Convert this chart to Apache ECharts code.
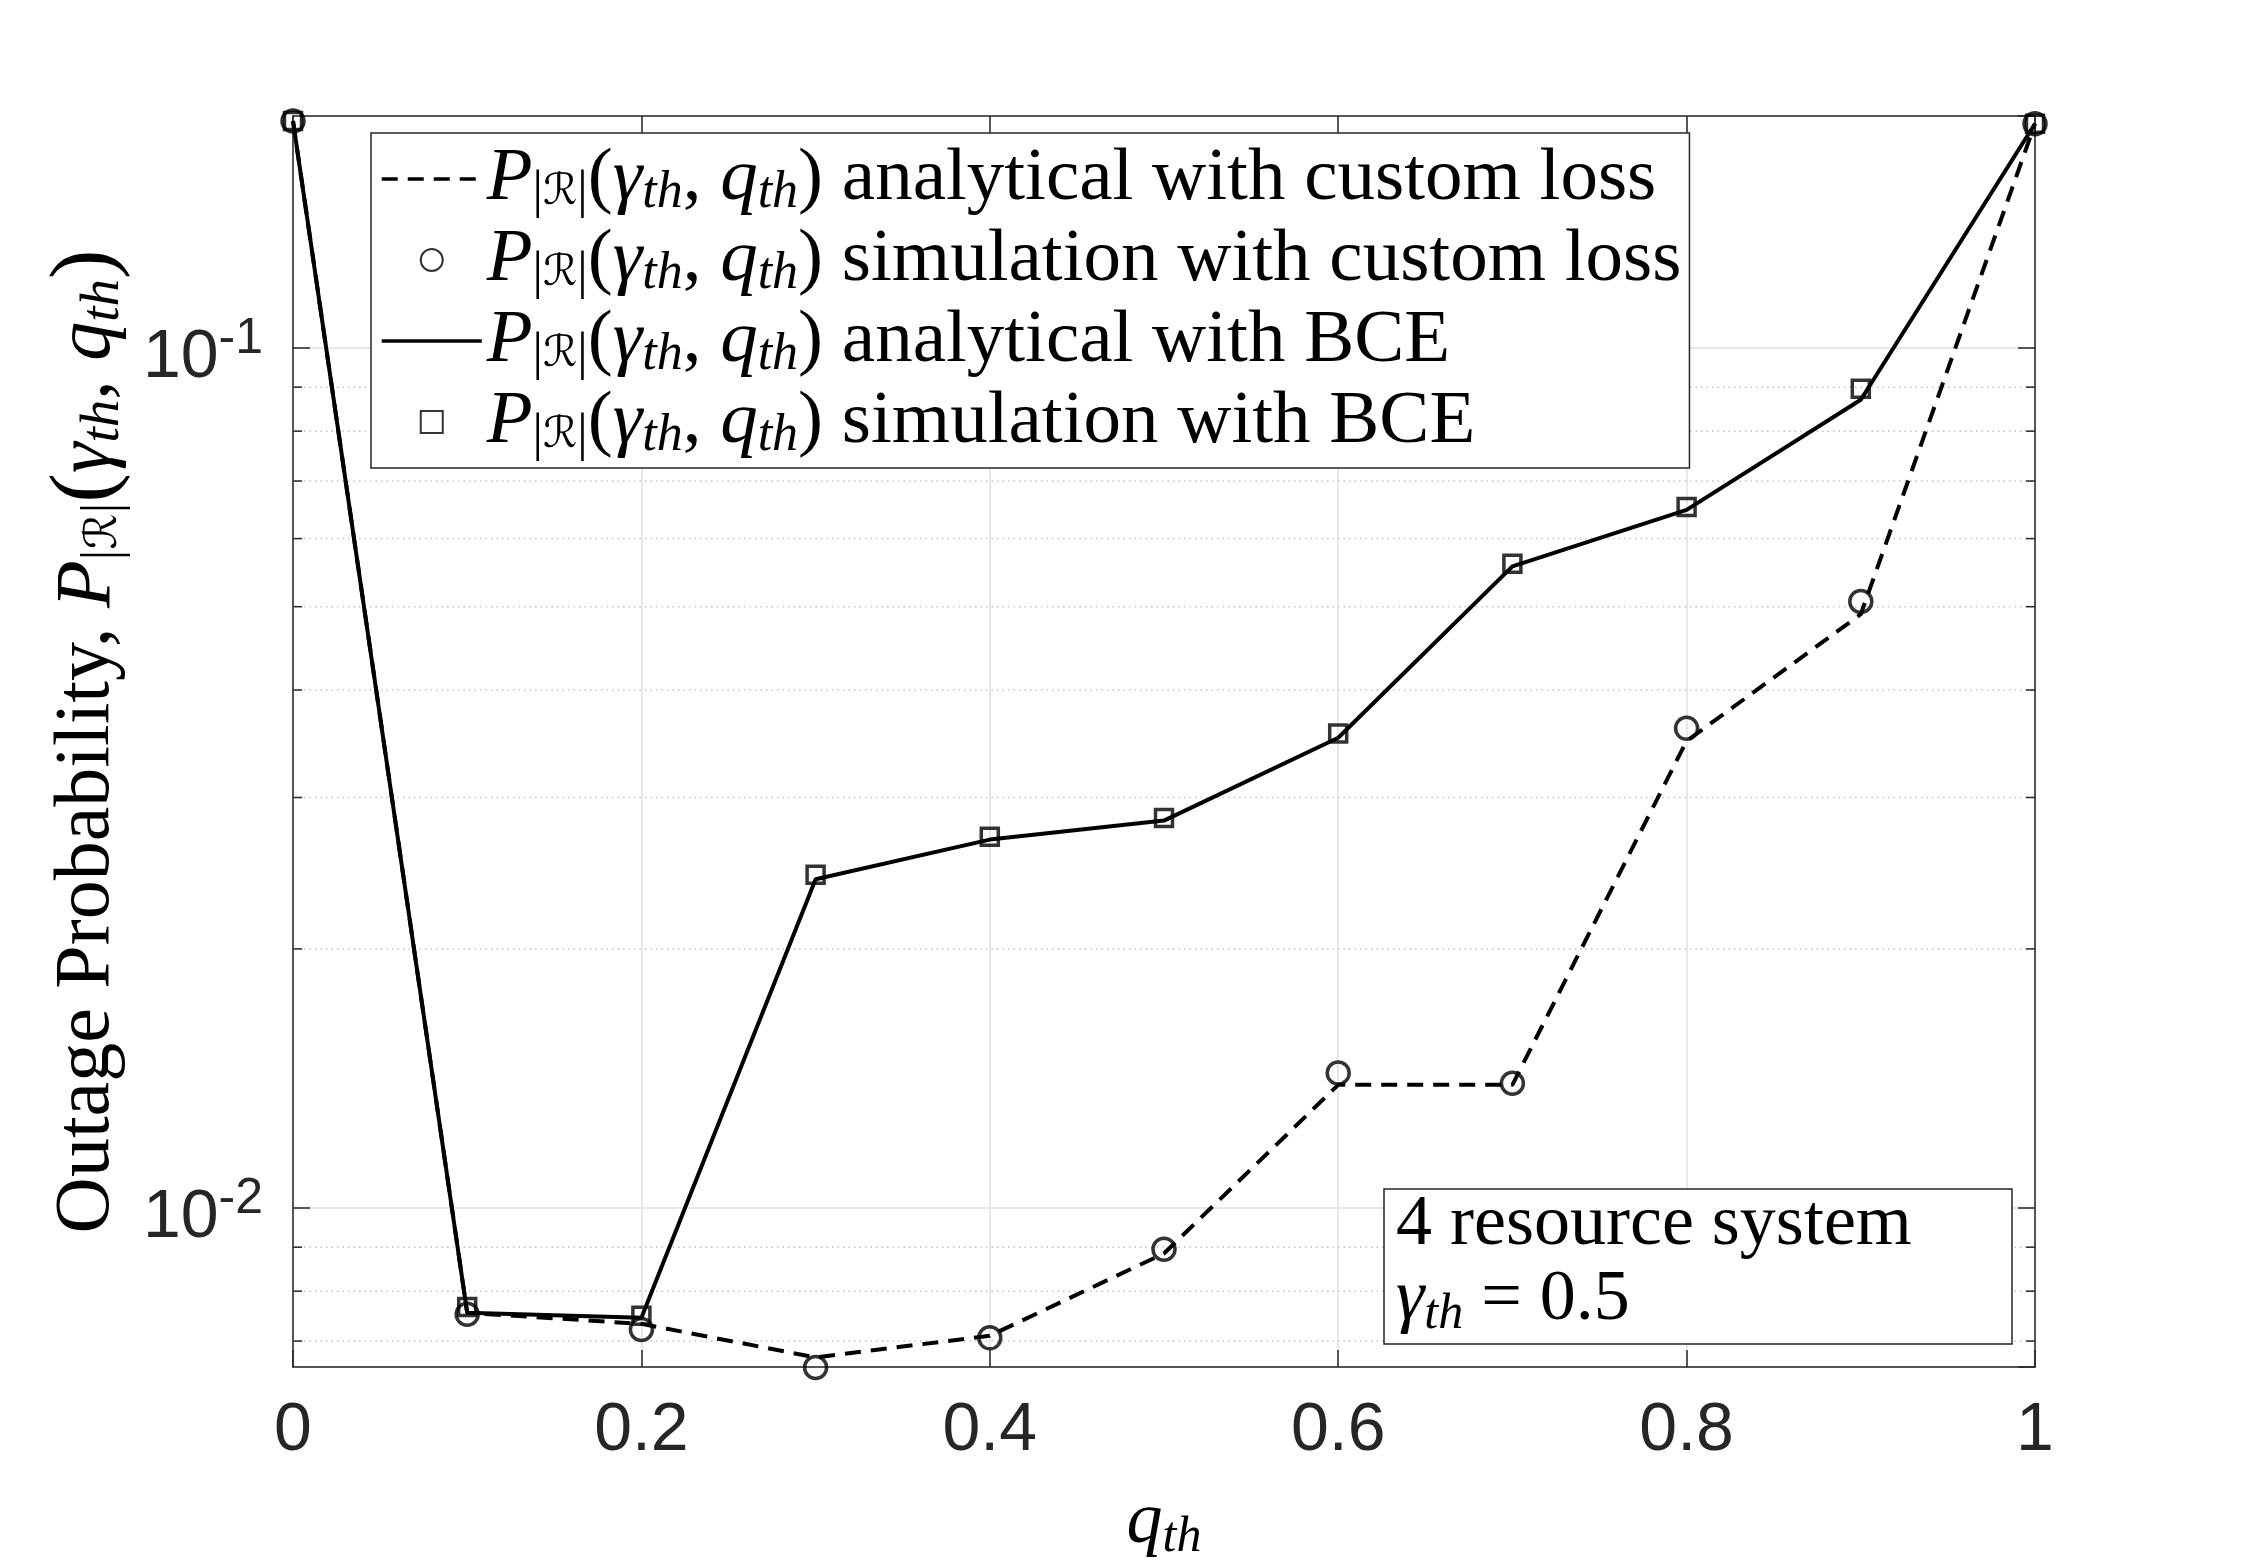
<!DOCTYPE html>
<html>
<head>
<meta charset="utf-8">
<script src="https://cdn.jsdelivr.net/npm/echarts@6/dist/echarts.min.js"></script>
<style>
html,body{margin:0;padding:0;background:#fff;}
#chart{width:2250px;height:1562px;}
</style>
</head>
<body>
<div id="chart"></div>
<script>
// ---- data ----
const qth = [0, 0.1, 0.2, 0.3, 0.4, 0.5, 0.6, 0.7, 0.8, 0.9, 1];
const customAnalytical = [0.1835, 0.00755, 0.00733, 0.0067, 0.0071, 0.00885, 0.0139, 0.0139, 0.0349, 0.0490, 0.1822];
const customSimulation = [0.1835, 0.00752, 0.00722, 0.00652, 0.00706, 0.00895, 0.01435, 0.01396, 0.0361, 0.0507, 0.1822];
const bceAnalytical = [0.1835, 0.00755, 0.00745, 0.0241, 0.0268, 0.0282, 0.0352, 0.0557, 0.0648, 0.0870, 0.1822];
const bceSimulation = [0.1835, 0.00767, 0.00749, 0.0244, 0.0270, 0.0284, 0.0356, 0.0561, 0.0653, 0.0896, 0.1822];
const xTicks = [0, 0.2, 0.4, 0.6, 0.8, 1];
const yMin = 0.00653, yMax = 0.186;
const yMinorTicks = [0.007, 0.008, 0.009, 0.02, 0.03, 0.04, 0.05, 0.06, 0.07, 0.08, 0.09];
const seriesNames = ['analytical with custom loss', 'simulation with custom loss', 'analytical with BCE', 'simulation with BCE'];

const SERIF = "'Liberation Serif', 'DejaVu Serif', serif";
const SANS = "'Liberation Sans', Arial, sans-serif";
const SCRIPT = "'DejaVu Serif', 'DejaVu Sans', serif";
const AX = '#262626';

function makeRich(main, sub, drop, parens) {
  const H = sub + drop;
  return {
    r: {fontFamily: SERIF, fontSize: main, lineHeight: H, color: '#000'},
    i: {fontFamily: SERIF, fontStyle: 'italic', fontSize: main, lineHeight: H, color: '#000'},
    p: {fontFamily: SERIF, fontSize: parens, fontWeight: 'lighter', lineHeight: H, color: '#000'},
    si: {fontFamily: SERIF, fontStyle: 'italic', fontSize: sub, lineHeight: sub, padding: [drop, 0, 0, 0], color: '#000'},
    sr: {fontFamily: SERIF, fontSize: sub, lineHeight: sub, padding: [drop, 0, 0, 0], color: '#000'},
    sc: {fontFamily: SCRIPT, fontStyle: 'italic', fontSize: Math.round(sub * 0.82), lineHeight: sub, padding: [drop, 0, 0, 0], color: '#000'}
  };
}
const legendRich = makeRich(75, 52, 28, 75);
const titleRich = makeRich(78, 55, 32, 88);
const boxRich = makeRich(72, 50, 30, 72);
const P_EXPR = '{i|P}{sr||}{sc|ℛ}{sr||}{p|(}{i|γ}{si|th}{r|, }{i|q}{si|th}{p|)}';

const chart = echarts.init(document.getElementById('chart'), null, {renderer: 'canvas'});

function pairs(ys) { return qth.map((x, k) => [x, ys[k]]); }

const option = {
  backgroundColor: '#fff',
  animation: false,
  grid: {left: 293, top: 116, width: 1742, height: 1251, containLabel: false, outerBoundsMode: 'none'},
  title: {
    text: '4 resource system\n{i|γ}{si|th}{r| = 0.5}',
    left: 1384, top: 1190,
    padding: [0, 100, 4, 12],
    borderColor: AX, borderWidth: 1.5, backgroundColor: '#fff',
    textStyle: {fontFamily: SERIF, fontSize: 72, fontWeight: 'normal', color: '#000', lineHeight: 70, rich: boxRich}
  },
  legend: {
    orient: 'vertical', left: 371, top: 133,
    padding: [6, 8, 6, 9], itemGap: 1, itemWidth: 100, itemHeight: 22,
    backgroundColor: '#fff', borderColor: AX, borderWidth: 1.5,
    selectedMode: false,
    data: seriesNames,
    lineStyle: {width: 3.5},
    textStyle: {fontFamily: SERIF, fontSize: 75, color: '#000', rich: legendRich},
    formatter: function (name) { return P_EXPR + '{r| ' + name + '}'; }
  },
  xAxis: [{
    type: 'value', position: 'bottom', min: 0, max: 1, interval: 0.2,
    axisLine: {show: true, onZero: false, lineStyle: {color: AX, width: 1.5}},
    axisTick: {show: true, inside: true, length: 17, lineStyle: {color: AX, width: 1.5}},
    splitLine: {show: true, lineStyle: {color: '#e0e0e0', width: 1.5}},
    axisLabel: {fontFamily: SANS, fontSize: 68, color: AX, margin: 30,
      formatter: function (v) { return String(Math.round(v * 10) / 10); }},
    name: '{i|q}{si|th}', nameLocation: 'middle', nameGap: 116,
    nameTextStyle: {fontFamily: SERIF, fontSize: 72, color: '#000', rich: boxRich}
  }, {
    type: 'value', position: 'top', min: 0, max: 1, interval: 0.2,
    axisLine: {show: true, onZero: false, lineStyle: {color: AX, width: 1.5}},
    axisTick: {show: true, inside: true, length: 17, lineStyle: {color: AX, width: 1.5}},
    splitLine: {show: false}, axisLabel: {show: false}
  }],
  yAxis: [{
    type: 'log', logBase: 10, position: 'left', min: yMin, max: yMax,
    axisLine: {show: true, onZero: false, lineStyle: {color: AX, width: 1.5}},
    axisTick: {show: true, inside: true, length: 17, lineStyle: {color: AX, width: 1.5}},
    splitLine: {show: true, lineStyle: {color: '#e0e0e0', width: 1.5}},
    axisLabel: {
      margin: 30, showMinLabel: false, showMaxLabel: false,
      formatter: function (v) {
        const e = Math.log10(v);
        if (Math.abs(e - Math.round(e)) > 1e-6) return '';
        return '{b|10}{s|' + Math.round(e) + '}';
      },
      rich: {
        b: {fontFamily: SANS, fontSize: 68, lineHeight: 68, padding: [20, 0, 0, 0], color: AX},
        s: {fontFamily: SANS, fontSize: 50, lineHeight: 50, verticalAlign: 'top', color: AX}
      }
    },
    name: '{r|Outage Probability, }' + P_EXPR,
    nameLocation: 'middle', nameRotate: 90, nameGap: 148,
    nameTextStyle: {fontFamily: SERIF, fontSize: 78, color: '#000', rich: titleRich}
  }, {
    type: 'log', logBase: 10, position: 'right', min: yMin, max: yMax,
    axisLine: {show: true, onZero: false, lineStyle: {color: AX, width: 1.5}},
    axisTick: {show: true, inside: true, length: 17, lineStyle: {color: AX, width: 1.5}},
    splitLine: {show: false}, axisLabel: {show: false}
  }],
  series: [
    {
      type: 'custom', name: 'minor', silent: true, z: 1, xAxisIndex: 0, yAxisIndex: 0,
      data: yMinorTicks.map(v => [0, v]),
      encode: {x: 0, y: 1},
      renderItem: function (params, api) {
        const v = api.value(1);
        const a = api.coord([0, v]);
        const b = api.coord([1, v]);
        return {type: 'group', children: [
          {type: 'line', shape: {x1: a[0], y1: a[1], x2: b[0], y2: b[1]}, style: {stroke: '#c4c4c4', lineWidth: 1.5, lineDash: [1.5, 4]}},
          {type: 'line', shape: {x1: a[0], y1: a[1], x2: a[0] + 9, y2: a[1]}, style: {stroke: AX, lineWidth: 1.5}},
          {type: 'line', shape: {x1: b[0] - 9, y1: b[1], x2: b[0], y2: b[1]}, style: {stroke: AX, lineWidth: 1.5}}
        ]};
      }
    },
    {
      name: seriesNames[0], type: 'line', data: pairs(customAnalytical), symbol: 'none', clip: false, z: 3,
      lineStyle: {color: '#000', width: 4, type: [16, 10]},
      itemStyle: {color: 'rgba(0,0,0,0)', borderWidth: 0}
    },
    {
      name: seriesNames[1], type: 'scatter', data: pairs(customSimulation), symbol: 'circle', symbolSize: 22, clip: false, z: 4,
      itemStyle: {color: 'rgba(0,0,0,0)', borderColor: '#000', borderWidth: 3.5}
    },
    {
      name: seriesNames[2], type: 'line', data: pairs(bceAnalytical), symbol: 'none', clip: false, z: 3,
      lineStyle: {color: '#000', width: 4, type: 'solid'},
      itemStyle: {color: 'rgba(0,0,0,0)', borderWidth: 0}
    },
    {
      name: seriesNames[3], type: 'scatter', data: pairs(bceSimulation), symbol: 'path://M0 0H10V10H0Z', symbolSize: 17, clip: false, z: 4,
      itemStyle: {color: 'rgba(0,0,0,0)', borderColor: '#000', borderWidth: 3.5}
    }
  ]
};
chart.setOption(option);
</script>
</body>
</html>
